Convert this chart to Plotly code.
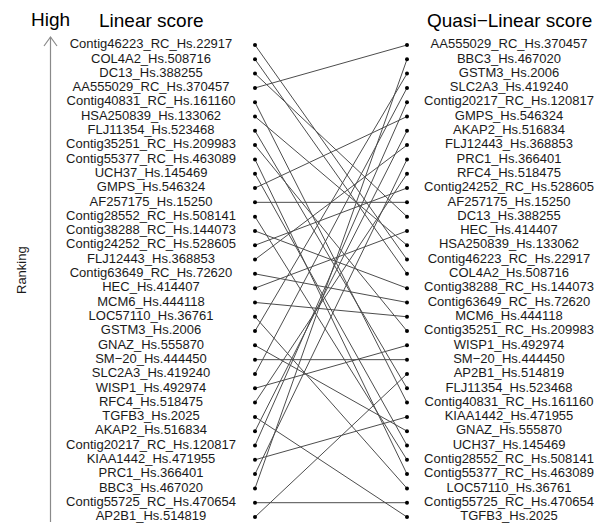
import plotly.graph_objects as go

# Genes ordered by rank (top = highest) under each scoring method
linear_rank = [
    "Contig46223_RC_Hs.22917", "COL4A2_Hs.508716", "DC13_Hs.388255",
    "AA555029_RC_Hs.370457", "Contig40831_RC_Hs.161160", "HSA250839_Hs.133062",
    "FLJ11354_Hs.523468", "Contig35251_RC_Hs.209983", "Contig55377_RC_Hs.463089",
    "UCH37_Hs.145469", "GMPS_Hs.546324", "AF257175_Hs.15250",
    "Contig28552_RC_Hs.508141", "Contig38288_RC_Hs.144073", "Contig24252_RC_Hs.528605",
    "FLJ12443_Hs.368853", "Contig63649_RC_Hs.72620", "HEC_Hs.414407",
    "MCM6_Hs.444118", "LOC57110_Hs.36761", "GSTM3_Hs.2006",
    "GNAZ_Hs.555870", "SM\u221220_Hs.444450", "SLC2A3_Hs.419240",
    "WISP1_Hs.492974", "RFC4_Hs.518475", "TGFB3_Hs.2025",
    "AKAP2_Hs.516834", "Contig20217_RC_Hs.120817", "KIAA1442_Hs.471955",
    "PRC1_Hs.366401", "BBC3_Hs.467020", "Contig55725_RC_Hs.470654",
    "AP2B1_Hs.514819",
]
quasi_linear_rank = [
    "AA555029_RC_Hs.370457", "BBC3_Hs.467020", "GSTM3_Hs.2006",
    "SLC2A3_Hs.419240", "Contig20217_RC_Hs.120817", "GMPS_Hs.546324",
    "AKAP2_Hs.516834", "FLJ12443_Hs.368853", "PRC1_Hs.366401",
    "RFC4_Hs.518475", "Contig24252_RC_Hs.528605", "AF257175_Hs.15250",
    "DC13_Hs.388255", "HEC_Hs.414407", "HSA250839_Hs.133062",
    "Contig46223_RC_Hs.22917", "COL4A2_Hs.508716", "Contig38288_RC_Hs.144073",
    "Contig63649_RC_Hs.72620", "MCM6_Hs.444118", "Contig35251_RC_Hs.209983",
    "WISP1_Hs.492974", "SM\u221220_Hs.444450", "AP2B1_Hs.514819",
    "FLJ11354_Hs.523468", "Contig40831_RC_Hs.161160", "KIAA1442_Hs.471955",
    "GNAZ_Hs.555870", "UCH37_Hs.145469", "Contig28552_RC_Hs.508141",
    "Contig55377_RC_Hs.463089", "LOC57110_Hs.36761", "Contig55725_RC_Hs.470654",
    "TGFB3_Hs.2025",
]

W, H = 611, 530
FONT = "Liberation Sans, Arial, sans-serif"

# Column layout (horizontal positions in pixel units of the x axis)
X_LEFT_LABEL, X_LEFT_DOT = 151, 255
X_RIGHT_DOT, X_RIGHT_LABEL = 407, 509
TOP_PX, BOTTOM_PX = 45, 517

n = len(linear_rank)
step = (BOTTOM_PX - TOP_PX) / (n - 1)
y_top = 1 - TOP_PX / step
y_bot = 1 + (H - TOP_PX) / step

left_pos = {g: i + 1 for i, g in enumerate(linear_rank)}
right_pos = {g: i + 1 for i, g in enumerate(quasi_linear_rank)}

# Connecting segments between the two rankings
lx, ly = [], []
for g in linear_rank:
    lx += [X_LEFT_DOT, X_RIGHT_DOT, None]
    ly += [left_pos[g], right_pos[g], None]

fig = go.Figure()
fig.add_trace(go.Scatter(x=lx, y=ly, mode="lines",
                         line=dict(color="#4d4d4d", width=1),
                         hoverinfo="skip", showlegend=False))
fig.add_trace(go.Scatter(x=[X_LEFT_DOT] * n, y=list(range(1, n + 1)),
                         mode="markers", marker=dict(color="black", size=4),
                         showlegend=False))
fig.add_trace(go.Scatter(x=[X_RIGHT_DOT] * n, y=list(range(1, n + 1)),
                         mode="markers", marker=dict(color="black", size=4),
                         showlegend=False))
fig.add_trace(go.Scatter(x=[X_LEFT_LABEL] * n, y=list(range(1, n + 1)),
                         mode="text", text=linear_rank, textposition="middle center",
                         textfont=dict(family=FONT, size=13, color="#1a1a1a"),
                         showlegend=False))
fig.add_trace(go.Scatter(x=[X_RIGHT_LABEL] * n, y=list(range(1, n + 1)),
                         mode="text", text=quasi_linear_rank, textposition="middle center",
                         textfont=dict(family=FONT, size=13, color="#1a1a1a"),
                         showlegend=False))

def px_x(p):
    return p / W

def px_y(p):
    return 1 - p / H

annotations = [
    dict(text="High", x=px_x(50), y=px_y(20), size=19),
    dict(text="Linear score", x=px_x(151.5), y=px_y(21), size=19),
    dict(text="Quasi\u2212Linear score", x=px_x(509), y=px_y(21), size=19),
]
ann = [dict(text=a["text"], x=a["x"], y=a["y"], xref="paper", yref="paper",
            showarrow=False, xanchor="center", yanchor="middle",
            font=dict(family=FONT, size=a["size"], color="black"))
       for a in annotations]
ann.append(dict(text="Ranking", x=px_x(21), y=px_y(270), xref="paper", yref="paper",
                showarrow=False, textangle=-90, xanchor="center", yanchor="middle",
                font=dict(family=FONT, size=13, color="#1a1a1a")))

# Ranking axis arrow: shaft plus open chevron head
arrow_col = "#8a8a8a"
shapes = [
    dict(type="line", xref="paper", yref="paper",
         x0=px_x(50.5), x1=px_x(50.5), y0=px_y(522), y1=px_y(37),
         line=dict(color=arrow_col, width=1.2)),
    dict(type="path", xref="paper", yref="paper",
         path=f"M {px_x(44)},{px_y(46)} L {px_x(50.5)},{px_y(37)} L {px_x(57)},{px_y(46)}",
         line=dict(color=arrow_col, width=1.2)),
]

fig.update_layout(
    width=W, height=H,
    margin=dict(l=0, r=0, t=0, b=0),
    paper_bgcolor="white", plot_bgcolor="white",
    xaxis=dict(range=[0, W], visible=False, fixedrange=True),
    yaxis=dict(range=[y_bot, y_top], visible=False, fixedrange=True),
    annotations=ann, shapes=shapes,
    showlegend=False,
)

fig.write_html("out.html")
